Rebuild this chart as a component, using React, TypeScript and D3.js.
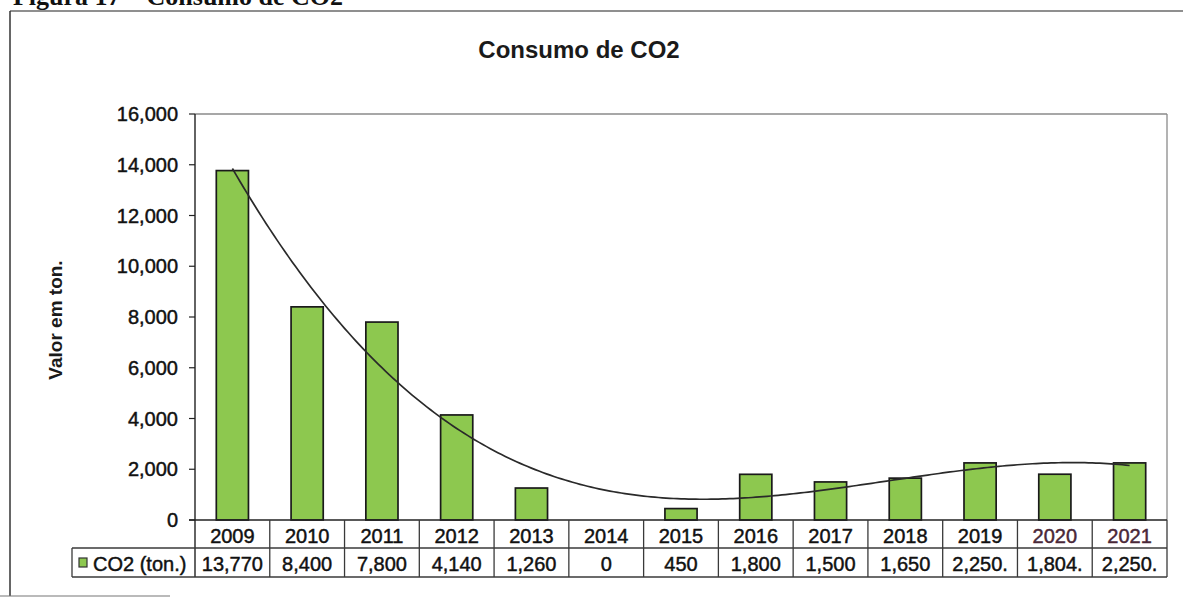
import React from "react";
import * as d3 from "d3";

const years = ["2009","2010","2011","2012","2013","2014","2015","2016","2017","2018","2019","2020","2021"];
const co2 = [13770, 8400, 7800, 4140, 1260, 0, 450, 1800, 1500, 1650, 2250, 1804, 2250];
const tableLabels = ["13,770","8,400","7,800","4,140","1,260","0","450","1,800","1,500","1,650","2,250.","1,804.","2,250."];
const yTicks = [0, 2000, 4000, 6000, 8000, 10000, 12000, 14000, 16000];
const seriesName = "CO2 (ton.)";
const title = "Consumo de CO2";
const yTitle = "Valor em ton.";
const caption = "Figura 17 – Consumo de CO2";
const trendOrder = 3;

function polyFit(xs: number[], ys: number[], order: number): number[] {
  const n = order + 1;
  const A: number[][] = Array.from({ length: n }, () => new Array(n + 1).fill(0));
  for (let r = 0; r < n; r++) {
    for (let c = 0; c < n; c++) {
      A[r][c] = d3.sum(xs, (x) => Math.pow(x, r + c));
    }
    A[r][n] = d3.sum(xs, (x, i) => Math.pow(x, r) * ys[i]);
  }
  for (let i = 0; i < n; i++) {
    let p = i;
    for (let k = i + 1; k < n; k++) if (Math.abs(A[k][i]) > Math.abs(A[p][i])) p = k;
    [A[i], A[p]] = [A[p], A[i]];
    for (let k = i + 1; k < n; k++) {
      const f = A[k][i] / A[i][i];
      for (let c = i; c <= n; c++) A[k][c] -= f * A[i][c];
    }
  }
  const coef = new Array(n).fill(0);
  for (let i = n - 1; i >= 0; i--) {
    let s = A[i][n];
    for (let c = i + 1; c < n; c++) s -= A[i][c] * coef[c];
    coef[i] = s / A[i][i];
  }
  return coef;
}

export default function App() {
  const W = 1183, H = 606;
  const left = 195, right = 1167, top = 114, base = 520;
  const row1 = 548, row2 = 577, legendLeft = 72;

  const x = d3.scaleBand<string>().domain(years).range([left, right]).padding(0);
  const y = d3.scaleLinear().domain([0, 16000]).range([base, top]);
  const bw = x.bandwidth() * 0.43;

  const xs = years.map((_, i) => i + 1);
  const coef = polyFit(xs, co2, trendOrder);
  const step = x.step();
  const x0 = (x(years[0]) as number) + x.bandwidth() / 2;
  const samples = d3.range(0, 241).map((k) => 1 + (k * 12) / 240);
  const line = d3
    .line<number>()
    .x((t) => x0 + (t - 1) * step)
    .y((t) => y(coef.reduce((s, c, i) => s + c * Math.pow(t, i), 0)))
    .curve(d3.curveLinear);

  const font = "'Liberation Sans', Arial, sans-serif";
  const gridColor = "#3a3a3a";
  const heavy = { stroke: "#111", strokeWidth: 0.45 } as const;

  return (
    <div style={{ position: "fixed", left: 0, top: 0 }}>
      <svg width={W} height={H} style={{ display: "block", background: "#fff" }} fontFamily={font}>
        <rect x={0} y={0} width={W} height={H} fill="#fff" />
        {/* cut caption at top */}
        <text x={343} y={5} textAnchor="end" fontFamily="'Liberation Serif', 'Times New Roman', serif" fontWeight="bold" fontSize={26} fill="#111">{caption}</text>
        {/* outer frame */}
        <line x1={10} y1={11} x2={W} y2={11} stroke="#6a6a6a" strokeWidth={1.5} />
        <line x1={10} y1={11} x2={10} y2={596} stroke="#333" strokeWidth={1.5} />
        <line x1={0} y1={596} x2={170} y2={596} stroke="#777" strokeWidth={1.2} />

        {/* title */}
        <text x={579} y={58} textAnchor="middle" fontWeight="bold" fontSize={24} fill="#1a1a1a">{title}</text>

        {/* y title */}
        <text transform={`translate(62,320) rotate(-90)`} textAnchor="middle" fontWeight="bold" fontSize={19} fill="#1a1a1a">{yTitle}</text>

        {/* plot border (top, right) */}
        <line x1={left} y1={top} x2={right} y2={top} stroke="#8a8a8a" strokeWidth={1.3} />
        <line x1={right} y1={top} x2={right} y2={base} stroke="#8a8a8a" strokeWidth={1.3} />

        {/* y ticks & labels */}
        {yTicks.map((t) => (
          <g key={t}>
            <line x1={left - 6} x2={left} y1={y(t)} y2={y(t)} stroke="#222" strokeWidth={1.2} />
            <text x={178} y={y(t) + 7} textAnchor="end" fontSize={20} fill="#111" {...heavy}>{d3.format(",")(t)}</text>
          </g>
        ))}

        {/* bars */}
        {co2.map((v, i) => {
          const cx = (x(years[i]) as number) + x.bandwidth() / 2;
          if (v <= 0) return null;
          return (
            <rect key={years[i]} x={cx - bw / 2} y={y(v)} width={bw} height={base - y(v)} fill="#8dc84f" stroke="#1a1a1a" strokeWidth={1.7} />
          );
        })}

        {/* trendline */}
        <path d={line(samples) as string} fill="none" stroke="#2a2a2a" strokeWidth={1.7} />

        {/* y axis line */}
        <line x1={left} y1={top} x2={left} y2={row2} stroke="#222" strokeWidth={1.4} />
        {/* x axis / table top */}
        <line x1={left - 6} y1={base} x2={right} y2={base} stroke="#222" strokeWidth={1.4} />

        {/* data table */}
        <line x1={legendLeft} y1={row1} x2={right} y2={row1} stroke={gridColor} strokeWidth={1.3} />
        <line x1={legendLeft} y1={row2} x2={right} y2={row2} stroke={gridColor} strokeWidth={1.3} />
        <line x1={legendLeft} y1={row1} x2={legendLeft} y2={row2} stroke={gridColor} strokeWidth={1.3} />
        {years.map((yr) => {
          const xe = (x(yr) as number) + x.bandwidth();
          return <line key={"v" + yr} x1={xe} y1={base} x2={xe} y2={row2} stroke={gridColor} strokeWidth={1.3} />;
        })}
        {years.map((yr, i) => {
          const cx = (x(yr) as number) + x.bandwidth() / 2;
          const col = i >= 11 ? "#4a2838" : "#111";
          return (
            <g key={"t" + yr}>
              <text x={cx} y={543} textAnchor="middle" fontSize={20} fill={col} stroke={col} strokeWidth={0.45}>{yr}</text>
              <text x={cx} y={571} textAnchor="middle" fontSize={20} fill="#111" {...heavy}>{tableLabels[i]}</text>
            </g>
          );
        })}
        {/* legend key */}
        <rect x={79} y={558} width={8} height={9} fill="#8dc84f" stroke="#333" strokeWidth={1.2} />
        <text x={93} y={571} fontSize={20} fill="#111" {...heavy}>{seriesName}</text>
      </svg>
    </div>
  );
}
